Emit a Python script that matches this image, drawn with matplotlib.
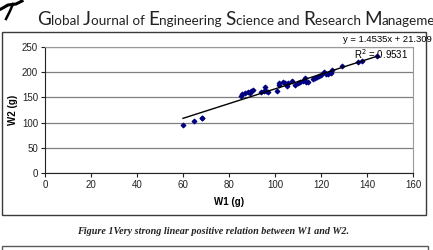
import numpy as np
import matplotlib.pyplot as plt
from matplotlib.patches import Rectangle
from matplotlib.lines import Line2D

# W1 / W2 values
w1 = [60.0, 64.6, 68.1, 68.4, 85.4, 85.8, 86.8, 88.3, 89.0, 89.7, 90.5,
      94.1, 95.1, 95.7, 96.3, 97.0, 100.7, 101.7, 101.8, 103.3, 104.3,
      105.3, 105.7, 107.2, 108.9, 110.0, 110.8, 112.0, 113.0, 113.5,
      114.2, 116.7, 117.4, 118.1, 119.1, 119.9, 121.3, 122.2, 123.2,
      124.4, 124.7, 129.0, 136.3, 137.7, 144.3]
w2 = [95.9, 102.6, 109.6, 108.8, 151.8, 156.4, 158.4, 159.7, 158.4, 161.7,
      163.7, 160.4, 161.7, 169.6, 161.7, 159.7, 161.7, 178.2, 174.9, 179.5,
      178.2, 171.6, 178.2, 181.5, 174.3, 178.2, 179.5, 181.5, 188.1, 180.2,
      180.9, 186.8, 188.1, 189.4, 192.7, 194.1, 199.3, 196.0, 196.7, 198.0,
      204.6, 211.2, 220.5, 221.1, 231.0]

slope, intercept = 1.4535, 21.309
r2 = 0.9531

x_ticks = [0, 20, 40, 60, 80, 100, 120, 140, 160]
y_ticks = [0, 50, 100, 150, 200, 250]

W, H = 433, 250
fig = plt.figure(figsize=(W / 100, H / 100), dpi=100)
plt.rcParams['font.family'] = ['Liberation Sans', 'DejaVu Sans']


def fx(px):
    return px / W


def fy(py):
    return 1 - py / H


# chart frame and next frame below
fig.patches.append(Rectangle((fx(2), fy(215)), fx(424), 183 / H, transform=fig.transFigure,
                             fill=False, edgecolor='#3a3a3a', lw=1.0))
fig.patches.append(Rectangle((fx(2), fy(252)), fx(426), 6 / H, transform=fig.transFigure,
                             fill=False, edgecolor='#5a5a5a', lw=1.0))

ax = fig.add_axes([fx(45), fy(173.3), 368 / W, 126.6 / H])
ax.set_xlim(0, 160)
ax.set_ylim(0, 250)
ax.set_xticks(x_ticks)
ax.set_yticks(y_ticks)
ax.tick_params(labelsize=7, length=3, width=0.8, colors='#222222', pad=2)
ax.grid(axis='y', color='#7f7f7f', lw=0.9)
ax.set_axisbelow(True)
for side in ['top', 'right']:
    ax.spines[side].set_color('#9a9a9a')
for side in ['left', 'bottom']:
    ax.spines[side].set_color('#222222')

ax.scatter(w1, w2, marker='D', s=5, color='#000080', zorder=3)
xl = np.array([min(w1), max(w1)])
ax.plot(xl, slope * xl + intercept, color='black', lw=1.0, zorder=4)

ax.set_xlabel('W1 (g)', fontsize=7, fontweight='bold', labelpad=5)
ax.set_ylabel('W2 (g)', fontsize=7, fontweight='bold', labelpad=3)

fig.text(fx(343), fy(40), f'y = {slope}x + {intercept}', fontsize=6.8, va='center', ha='left')
fig.text(fx(408), fy(54), f'R$^2$ = {r2}', fontsize=7, va='center', ha='right')

fig.text(fx(213), fy(231), 'Figure 1Very strong linear positive relation between W1 and W2.',
         family='Liberation Serif', style='italic', fontweight='bold', fontsize=7.3,
         ha='center', va='center', color='#222222')

# journal header, capitals drawn larger
pieces = [('G', 13.6), ('lobal ', 9.7), ('J', 13.6), ('ournal of ', 9.7), ('E', 13.6),
          ('ngineering ', 9.7), ('S', 13.6), ('cience and ', 9.7), ('R', 13.6),
          ('esearch ', 9.7), ('M', 13.6), ('anagement', 9.7)]
renderer = fig.canvas.get_renderer()
x = 37
for s, size in pieces:
    t = fig.text(fx(x), fy(25), s, fontsize=size, family=['Lato', 'DejaVu Sans'],
                 ha='left', va='baseline', color='#222222')
    x += t.get_window_extent(renderer).width

# small logo mark top-left
fig.add_artist(Line2D([fx(1), fx(8), fx(16), fx(22)], [fy(9), fy(5), fy(4), fy(1)],
                      transform=fig.transFigure, color='black', lw=2.2))
fig.add_artist(Line2D([fx(6), fx(10), fx(13)], [fy(19), fy(11), fy(4)],
                      transform=fig.transFigure, color='black', lw=1.8))

fig.savefig('out.png', dpi=100)
